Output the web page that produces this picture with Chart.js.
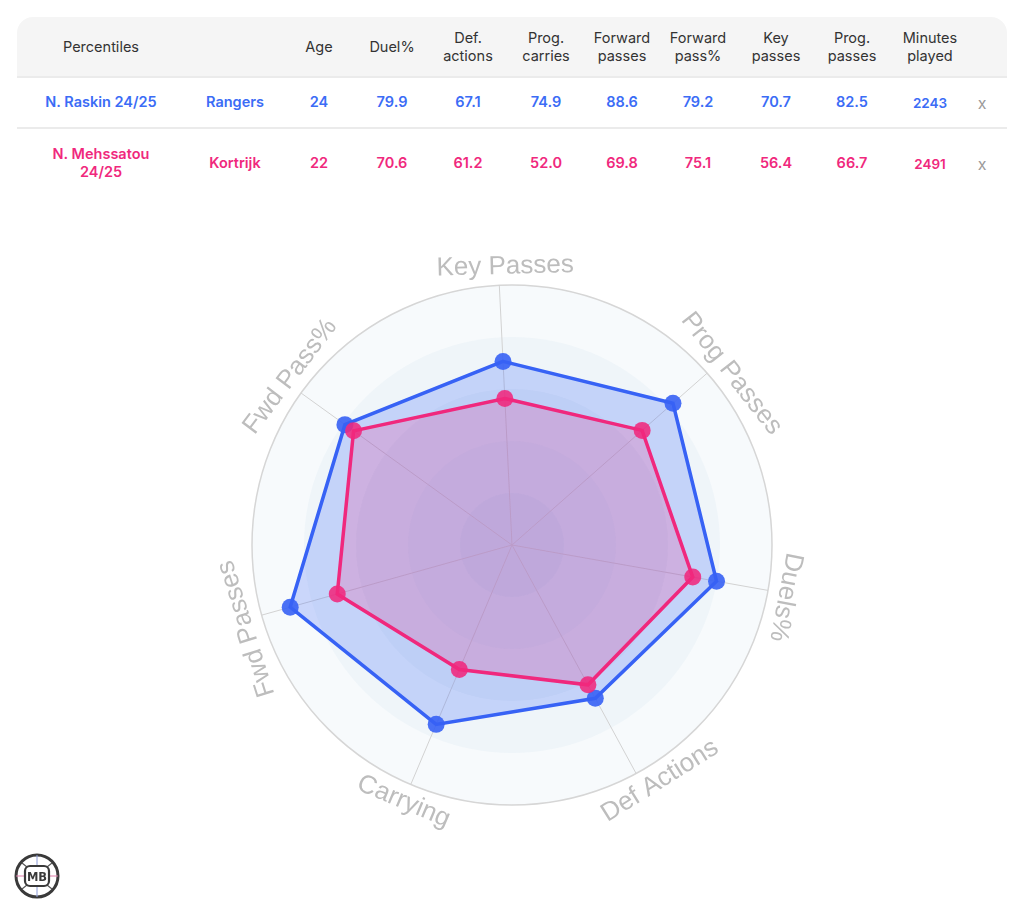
<!DOCTYPE html>
<html>
<head>
<meta charset="utf-8">
<script src="https://cdn.jsdelivr.net/npm/chart.js@4.4.1/dist/chart.umd.min.js"></script>
<style>
  html, body { margin:0; padding:0; background:#fff; width:1024px; height:912px; overflow:hidden; }
  body { position:relative; font-family: Inter, "Noto Sans", sans-serif; }
  #hdr { position:absolute; left:17px; top:17px; width:990px; height:60px; background:#f5f5f5; border-radius:16px 16px 0 0; }
  .line { position:absolute; left:17px; width:990px; height:2px; background:#ebebeb; }
  .cell { position:absolute; width:130px; margin-left:-65px; text-align:center; white-space:pre-line; font-size:14.5px; line-height:18px; }
  .h { color:#333; font-weight:400; }
  .d { font-weight:600; }
  .small { font-size:13.5px; }
  .x { color:#9a9a9a; font-weight:400; font-size:16px; }
  #c { position:absolute; left:0; top:195px; }
  #logo { position:absolute; left:13px; top:852px; }
</style>
</head>
<body>
<div id="hdr"></div>
<div class="line" style="top:76px"></div>
<div class="line" style="top:127px"></div>
<div id="table"></div>
<canvas id="c" width="1024" height="700"></canvas>
<svg id="logo" width="48" height="48" viewBox="0 0 48 48">
  <circle cx="24" cy="24" r="21" fill="#fff" stroke="#3a3a3a" stroke-width="3"/>
  <line x1="24" y1="3" x2="24" y2="13" stroke="#8a9ad8" stroke-width="1"/>
  <line x1="24" y1="35" x2="24" y2="45" stroke="#8a9ad8" stroke-width="1"/>
  <line x1="3" y1="24" x2="12" y2="24" stroke="#e07aa8" stroke-width="1"/>
  <line x1="36" y1="24" x2="45" y2="24" stroke="#e07aa8" stroke-width="1"/>
  <path d="M9 11 L14 15 M39 11 L34 15 M9 37 L14 33 M39 37 L34 33" stroke="#555" stroke-width="1.2"/>
  <rect x="12" y="14" width="24" height="20" rx="5" fill="#fff" stroke="#3a3a3a" stroke-width="2.2"/>
  <text x="24" y="29" text-anchor="middle" font-family="DejaVu Sans, sans-serif" font-weight="700" font-size="11.5" fill="#3a3a3a">MB</text>
</svg>
<script>
// ---- Table data ----
const tableHeaders = ['Age', 'Duel%', 'Def.\nactions', 'Prog.\ncarries', 'Forward\npasses', 'Forward\npass%', 'Key\npasses', 'Prog.\npasses', 'Minutes\nplayed'];
const playerNames = ['N. Raskin 24/25', 'N. Mehssatou\n24/25'];
const playerTeams = ['Rangers', 'Kortrijk'];
const raskinRow = ['24', '79.9', '67.1', '74.9', '88.6', '79.2', '70.7', '82.5', '2243'];
const mehssatouRow = ['22', '70.6', '61.2', '52.0', '69.8', '75.1', '56.4', '66.7', '2491'];

// ---- Radar data ----
const radarLabels = ['Key Passes', 'Prog Passes', 'Duels%', 'Def Actions', 'Carrying', 'Fwd Passes', 'Fwd Pass%'];
const raskinValues = [70.7, 82.5, 79.9, 67.1, 74.9, 88.6, 79.2];
const mehssatouValues = [56.4, 66.7, 70.6, 61.2, 52.0, 69.8, 75.1];

// ---- Layout (label placement angles, degrees clockwise from top) ----
const labelAngles = [-1.4, 52, 100.8, 147.9, 202.9, 252.5, 307.2];

// ---- Table layout ----
const colX = [319, 392, 468, 546, 622, 698, 776, 852, 930];
const BLUE = 'rgb(59,108,246)';
const PINK = 'rgb(240,40,125)';
const tbl = document.getElementById('table');
function cell(x, y, text, cls, color) {
  const d = document.createElement('div');
  d.className = 'cell ' + cls;
  d.style.left = x + 'px';
  d.style.top = y + 'px';
  d.textContent = text;
  if (color) d.style.color = color;
  tbl.appendChild(d);
  return d;
}
cell(101, 38, 'Percentiles', 'h');
tableHeaders.forEach((h, i) => {
  const twoLine = h.indexOf('\n') >= 0;
  cell(colX[i], twoLine ? 29 : 38, h, 'h');
});
const rowsY = [93, 154];
const rowData = [raskinRow, mehssatouRow];
const rowColors = [BLUE, PINK];
rowData.forEach((row, r) => {
  const y = rowsY[r];
  const nm = playerNames[r];
  cell(101, nm.indexOf('\n') >= 0 ? y - 9 : y, nm, 'd', rowColors[r]);
  cell(235, y, playerTeams[r], 'd', rowColors[r]);
  row.forEach((v, i) => cell(colX[i], i === row.length - 1 ? y + 1 : y, v, i === row.length - 1 ? 'd small' : 'd', rowColors[r]));
  cell(982, y + 1, 'x', 'x');
});

// ---- Chart ----
const bgPlugin = {
  id: 'bgRings',
  beforeDraw(chart) {
    const s = chart.scales.r, ctx = chart.ctx;
    ctx.save();
    [100, 80, 60, 40, 20].forEach(v => {
      ctx.beginPath();
      ctx.arc(s.xCenter, s.yCenter, s.getDistanceFromCenterForValue(v), 0, Math.PI * 2);
      ctx.fillStyle = 'rgba(60,130,190,0.045)';
      ctx.fill();
    });
    ctx.restore();
  },
  afterDraw(chart) {
    const s = chart.scales.r, ctx = chart.ctx;
    const R = s.drawingArea + 18.5;
    ctx.save();
    ctx.font = '26px "Liberation Sans", Arial, sans-serif';
    ctx.fillStyle = '#bdbdbd';
    ctx.textAlign = 'center';
    ctx.textBaseline = 'middle';
    chart.data.labels.forEach((lab, i) => {
      const deg = ((labelAngles[i] % 360) + 360) % 360;
      const a = deg * Math.PI / 180;
      const x = s.xCenter + Math.sin(a) * R;
      const y = s.yCenter - Math.cos(a) * R;
      let rot = a;
      if (deg > 120 && deg < 240) rot = a - Math.PI;
      ctx.save();
      ctx.translate(x, y);
      ctx.rotate(rot);
      ctx.fillText(lab, 0, 0);
      ctx.restore();
    });
    ctx.restore();
  }
};

new Chart(document.getElementById('c'), {
  type: 'radar',
  data: {
    labels: radarLabels,
    datasets: [
      {
        label: 'N. Raskin 24/25',
        data: raskinValues,
        borderColor: 'rgb(55,98,245)',
        backgroundColor: 'rgba(59,99,245,0.24)',
        borderWidth: 3.5,
        pointRadius: 8.5,
        pointHoverRadius: 8.5,
        pointBackgroundColor: 'rgba(55,98,245,0.9)',
        pointBorderWidth: 0,
        fill: true,
        order: 1
      },
      {
        label: 'N. Mehssatou 24/25',
        data: mehssatouValues,
        borderColor: 'rgb(240,40,125)',
        backgroundColor: 'rgba(240,40,125,0.2)',
        borderWidth: 3.5,
        pointRadius: 8.5,
        pointHoverRadius: 8.5,
        pointBackgroundColor: 'rgba(240,40,125,0.88)',
        pointBorderWidth: 0,
        fill: true,
        order: 0
      }
    ]
  },
  options: {
    responsive: false,
    devicePixelRatio: 1,
    animation: false,
    layout: { padding: { left: 252, right: 252, top: 90, bottom: 90 } },
    plugins: { legend: { display: false }, tooltip: { enabled: false } },
    elements: { line: { tension: 0 } },
    scales: {
      r: {
        min: 0,
        max: 100,
        startAngle: -2.8,
        ticks: { display: false, stepSize: 20 },
        pointLabels: { display: false },
        grid: {
          circular: true,
          color: c => (c.tick && c.tick.value === 100) ? '#d6d6d6' : 'rgba(0,0,0,0)',
          lineWidth: 1.5
        },
        angleLines: { color: '#d2d2d2', lineWidth: 1 }
      }
    }
  },
  plugins: [bgPlugin]
});
</script>
</body>
</html>
